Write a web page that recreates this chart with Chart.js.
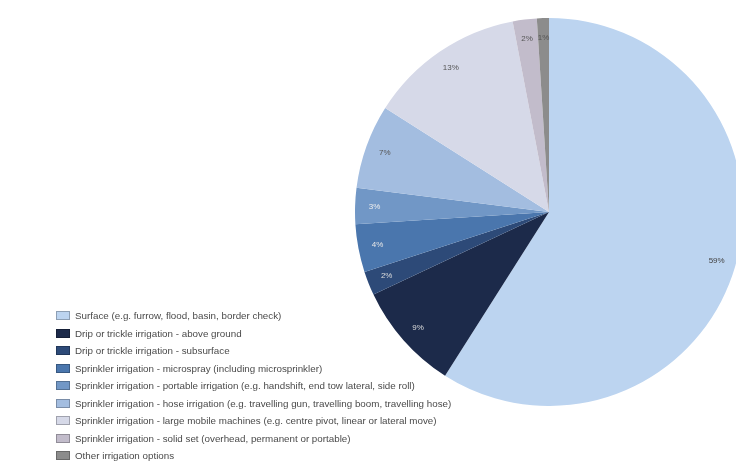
<!DOCTYPE html>
<html>
<head>
<meta charset="utf-8">
<script src="https://cdn.jsdelivr.net/npm/chart.js@4/dist/chart.umd.min.js"></script>
<style>
    html, body { margin: 0; padding: 0; background: #fff; overflow: hidden; width: 736px; height: 469px; }
    #pieBox { position: absolute; left: 355px; top: 18px; width: 388px; height: 388px; }
    #legend { position: absolute; left: 56px; top: 307px; font-family: "Liberation Sans", Arial, sans-serif; font-size: 9.8px; color: #4a4a4a; }
    #legend div { height: 17.5px; display: flex; align-items: center; white-space: nowrap; }
    #legend span.box { display: inline-block; width: 14px; height: 9px; margin-right: 5px; box-sizing: border-box; border: 1px solid rgba(0,0,0,0.25); }
</style>
</head>
<body>
<div id="pieBox"><canvas id="pie"></canvas></div>
<div id="legend"></div>
<script>
const categories = [
    'Surface (e.g. furrow, flood, basin, border check)',
    'Drip or trickle irrigation - above ground',
    'Drip or trickle irrigation - subsurface',
    'Sprinkler irrigation - microspray (including microsprinkler)',
    'Sprinkler irrigation - portable irrigation (e.g. handshift, end tow lateral, side roll)',
    'Sprinkler irrigation - hose irrigation (e.g. travelling gun, travelling boom, travelling hose)',
    'Sprinkler irrigation - large mobile machines (e.g. centre pivot, linear or lateral move)',
    'Sprinkler irrigation - solid set (overhead, permanent or portable)',
    'Other irrigation options'
];
const shares = [59, 9, 2, 4, 3, 7, 13, 2, 1];
const sliceColors = ['#bcd4f0', '#1c2a4a', '#2d4a78', '#4a76ad', '#7197c6', '#a3bde0', '#d6d9e8', '#c2bccb', '#8c8c8c'];
const labelColors = ['#444', '#ddd', '#ddd', '#e6e6e6', '#eee', '#555', '#555', '#555', '#555'];

// draws the percent text near the rim of each slice
const percentLabels = {
    id: 'percentLabels',
    afterDatasetsDraw(chart) {
        const ctx = chart.ctx;
        const meta = chart.getDatasetMeta(0);
        ctx.save();
        ctx.font = '8px "Liberation Sans", Arial, sans-serif';
        ctx.textAlign = 'center';
        ctx.textBaseline = 'middle';
        meta.data.forEach((arc, i) => {
            const p = arc.getProps(['x', 'y', 'startAngle', 'endAngle', 'outerRadius'], true);
            const mid = (p.startAngle + p.endAngle) / 2;
            const r = p.outerRadius * 0.9;
            ctx.fillStyle = labelColors[i];
            ctx.fillText(shares[i] + '%', p.x + Math.cos(mid) * r, p.y + Math.sin(mid) * r);
        });
        ctx.restore();
    }
};

new Chart(document.getElementById('pie').getContext('2d'), {
    type: 'pie',
    data: {
        labels: categories,
        datasets: [{
            data: shares,
            backgroundColor: sliceColors,
            borderWidth: 0
        }]
    },
    options: {
        responsive: true,
        maintainAspectRatio: false,
        animation: false,
        layout: { padding: 0 },
        plugins: {
            legend: { display: false },
            tooltip: { enabled: false }
        }
    },
    plugins: [percentLabels]
});

const legendEl = document.getElementById('legend');
categories.forEach((name, i) => {
    const row = document.createElement('div');
    const box = document.createElement('span');
    box.className = 'box';
    box.style.background = sliceColors[i];
    row.appendChild(box);
    row.appendChild(document.createTextNode(name));
    legendEl.appendChild(row);
});
</script>
</body>
</html>
